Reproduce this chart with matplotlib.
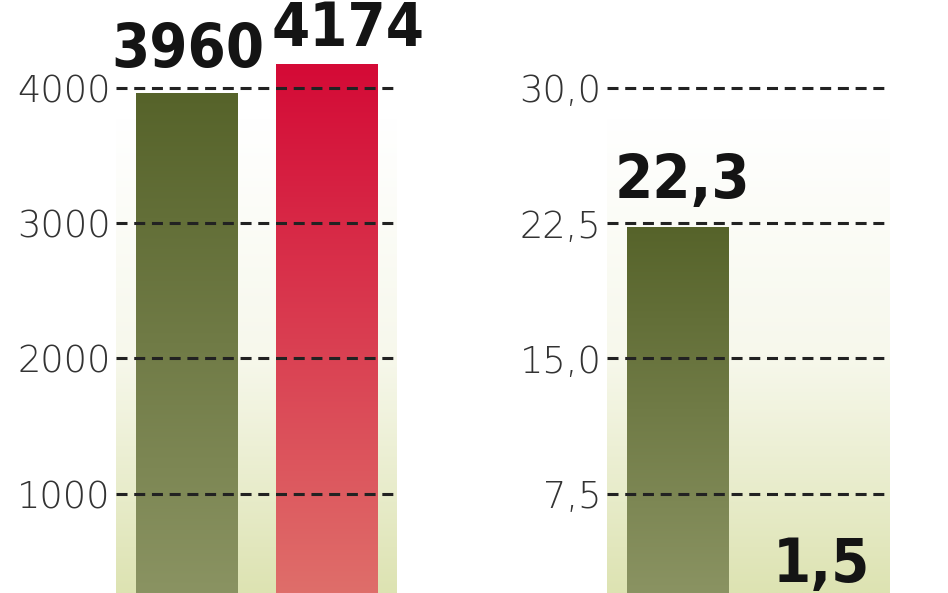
import numpy as np
import matplotlib
matplotlib.use("Agg")
import matplotlib.pyplot as plt
from matplotlib.colors import LinearSegmentedColormap
from matplotlib import font_manager as fm

# ---- data ----
left_values = [3960, 4174]
left_ticks = [1000, 2000, 3000, 4000]
left_ticklabels = ["1000", "2000", "3000", "4000"]
left_labels = ["3960", "4174"]

right_values = [22.3, 1.5]
right_ticks = [7.5, 15.0, 22.5, 30.0]
right_ticklabels = ["7,5", "15,0", "22,5", "30,0"]
right_labels = ["22,3", "1,5"]

# ---- style ----
W, H = 948, 593
DPI = 100
green = ("#56632a", "#8a9362")
red = ("#d40a36", "#df6e6a")
bg_bottom = "#dde3b2"

label_font = ["DejaVu Sans"]
label_stretch = "condensed"
have_xl = any(f.name == "DejaVu Sans" and f.weight in (200, "extra light", "ultralight")
              for f in fm.fontManager.ttflist)
if have_xl:
    tick_font, tick_weight, tick_size = ["DejaVu Sans"], 200, 26.5
else:
    tick_font, tick_weight, tick_size = ["Roboto", "DejaVu Sans"], "light", 28

fig = plt.figure(figsize=(W / DPI, H / DPI), dpi=DPI)
fig.patch.set_facecolor("white")


def make_panel(px_left, px_right, values, ticks, ticklabels, labels, ylim,
               colors, label_dx, label_dy):
    ax = fig.add_axes([px_left / W, 0, (px_right - px_left) / W, 1])
    ax.set_xlim(-0.5, 1.5)
    ax.set_ylim(*ylim)
    for s in ax.spines.values():
        s.set_visible(False)
    ax.set_facecolor("none")
    ax.set_xticks([])
    ax.set_yticks(ticks, ticklabels)
    ax.tick_params(axis="y", length=0, pad=4, labelsize=tick_size, labelcolor="#333333")
    for t in ax.get_yticklabels():
        t.set_family(tick_font)
        t.set_fontweight(tick_weight)
    # background gradient (white at top -> pale olive at bottom)
    bg_top = ylim[0] + (ylim[1] - ylim[0]) * 0.80
    bgcmap = LinearSegmentedColormap.from_list("bg", ["white", "#f7f8ec", bg_bottom])
    grad = np.linspace(0, 1, 256).reshape(-1, 1)
    ax.imshow(grad, cmap=bgcmap, aspect="auto", origin="upper",
              extent=(-0.5, 1.5, ylim[0], bg_top), zorder=0)
    # bars with vertical gradient
    bars = ax.bar(range(len(values)), values, width=0.72, color="none",
                  edgecolor="none", zorder=1)
    for i, (b, v) in enumerate(zip(bars, values)):
        c_top, c_bot = colors[i]
        cmap = LinearSegmentedColormap.from_list("b%d" % i, [c_top, c_bot])
        g = np.linspace(0, 1, 256).reshape(-1, 1)
        im = ax.imshow(g, cmap=cmap, aspect="auto", origin="upper",
                       extent=(b.get_x(), b.get_x() + b.get_width(), ylim[0], v),
                       zorder=1)
        im.set_clip_path(b)
        ax.annotate(labels[i], xy=(b.get_x() + b.get_width() / 2, v),
                    xytext=(label_dx[i], label_dy[i]), textcoords="offset pixels",
                    ha="center", va="baseline", fontsize=44, fontweight="bold",
                    family=label_font, fontstretch=label_stretch,
                    color="#141414", annotation_clip=False)
    ax.set_xlim(-0.5, 1.5)
    ax.set_ylim(*ylim)
    ax.yaxis.grid(True, color="#222222", linestyle=(0, (3.6, 2.2)), linewidth=2.2)
    ax.set_axisbelow(False)
    return ax


# pixel scale: 135.3 px per tick step; zero lies at pixel 629 (below the crop)
left_ylim = (266, 4649)
right_ylim = (266 / 1000 * 7.5, 4649 / 1000 * 7.5)

make_panel(116, 397, left_values, left_ticks, left_ticklabels, left_labels,
           left_ylim, [green, red], label_dx=[2, 21], label_dy=[26, 18])
make_panel(607, 890, right_values, right_ticks, right_ticklabels, right_labels,
           right_ylim, [green, green], label_dx=[5, 2], label_dy=[29, 20])

fig.savefig("out.png", dpi=DPI)
